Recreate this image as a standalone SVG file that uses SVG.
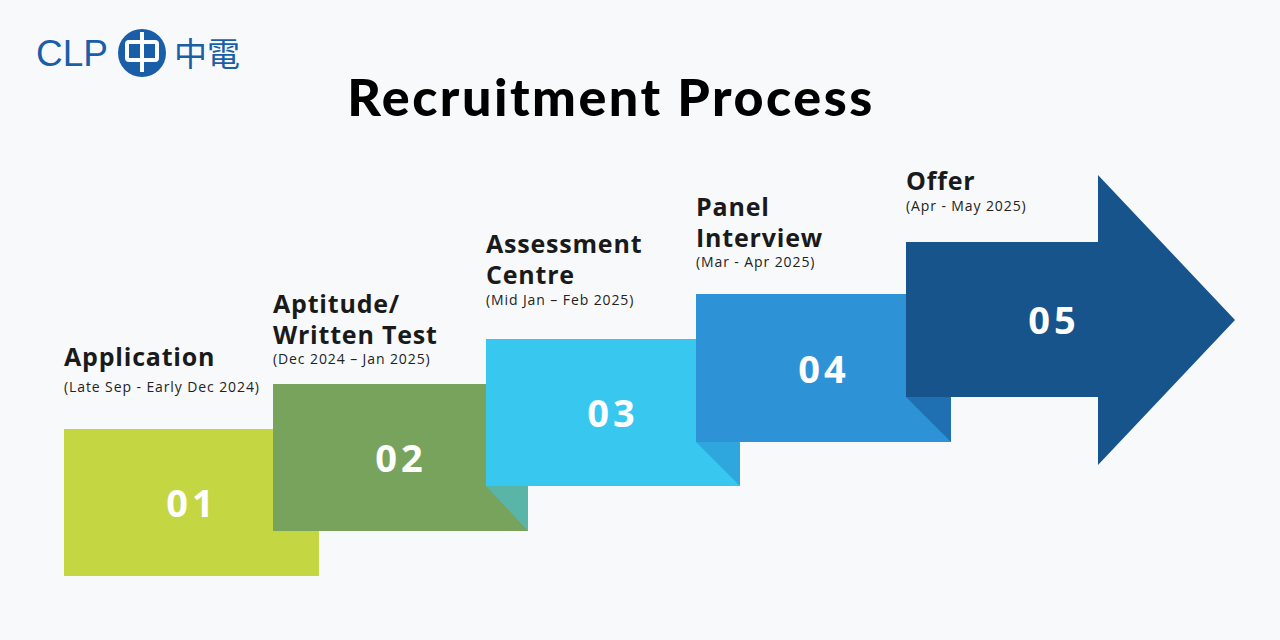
<svg xmlns="http://www.w3.org/2000/svg" width="1280" height="640" viewBox="0 0 1280 640">
<style>
.h{font-family:"Open Sans","DejaVu Sans",sans-serif;font-weight:700;font-size:25px;fill:#1a1a1a;letter-spacing:0.8px}
.s{font-family:"Open Sans","DejaVu Sans",sans-serif;font-size:14px;fill:#222;letter-spacing:0.9px}
.n{font-family:"Open Sans","DejaVu Sans",sans-serif;font-weight:700;font-size:38px;fill:#fff;text-anchor:middle;letter-spacing:4px}
</style>
<rect width="1280" height="640" fill="#f8f9fa"/>
<g id="logo" fill="#1a5ea8">
<text x="36" y="66" font-family="Liberation Sans,sans-serif" font-size="37" fill="#1a5ea8">CLP</text>
<circle cx="142" cy="53" r="24"/>
<rect x="127" y="42" width="30" height="18" rx="2" fill="none" stroke="#fff" stroke-width="4"/>
<rect x="140" y="32" width="4" height="40" fill="#fff"/>
<text x="174" y="66" font-family="Noto Sans CJK TC,sans-serif" font-size="33" fill="#1a5ea8">中電</text>
</g>
<text x="611" y="116" text-anchor="middle" font-family="Lato,sans-serif" font-weight="900" font-size="52" fill="#000" letter-spacing="2.5">Recruitment Process</text>
<g id="step1"><rect x="64" y="429" width="255" height="147" fill="#c5d643"/>
<text class="h" x="64" y="366">Application</text><text class="s" x="64" y="392">(Late Sep - Early Dec 2024)</text></g>
<g id="step2"><rect x="273" y="384" width="255" height="147" fill="#77a35c"/>
<polygon points="486,486 528,486 528,531" fill="#58b5a8"/>
<text class="h" x="273" y="313">Aptitude/</text><text class="h" x="273" y="344">Written Test</text><text class="s" x="273" y="364">(Dec 2024 – Jan 2025)</text></g>
<g id="step3"><rect x="486" y="339" width="254" height="147" fill="#38c8ef"/>
<polygon points="696,442 740,442 740,486" fill="#2ea6de"/>
<text class="h" x="486" y="253">Assessment</text><text class="h" x="486" y="284">Centre</text><text class="s" x="486" y="305">(Mid Jan – Feb 2025)</text></g>
<g id="step4"><rect x="696" y="294" width="255" height="148" fill="#2e93d6"/>
<polygon points="906,397 951,397 951,442" fill="#1f70b3"/>
<text class="h" x="696" y="216">Panel</text><text class="h" x="696" y="247">Interview</text><text class="s" x="696" y="267">(Mar - Apr 2025)</text></g>
<g id="step5"><polygon points="906,242 1098,242 1098,175 1235,320 1098,465 1098,397 906,397" fill="#17548c"/>
<text class="h" x="906" y="190">Offer</text><text class="s" x="906" y="211">(Apr - May 2025)</text></g>
<g id="numbers">
<text class="n" x="192" y="517">01</text><text class="n" x="401" y="472">02</text><text class="n" x="613" y="427">03</text><text class="n" x="824" y="383">04</text><text class="n" x="1054" y="334">05</text>
</g>
</svg>
